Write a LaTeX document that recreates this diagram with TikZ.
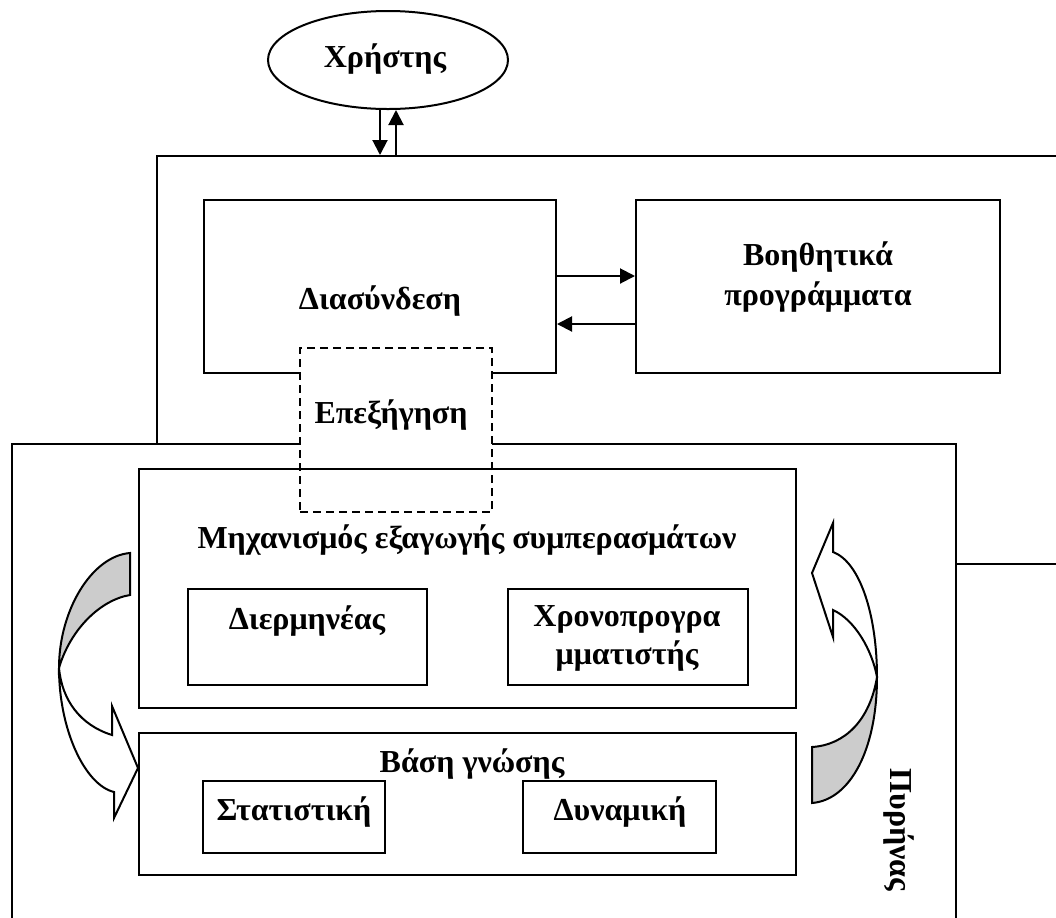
\documentclass[tikz,border=0pt]{standalone}
\usepackage{fontspec}
\setmainfont{Liberation Serif}
\usetikzlibrary{arrows.meta,fit,positioning,shapes.geometric}

\tikzset{
  box/.style={draw, line width=1pt, inner sep=0pt},
  lbl/.style={font=\fontsize{16}{19}\selectfont\bfseries, align=center, inner sep=0pt},
  tip/.style={-{Triangle[length=7.5pt,width=7.5pt]}, line width=1pt},
  band/.style={line width=1pt, fill=white},
  backband/.style={line width=1pt, fill=gray!40}
}

\begin{document}
\begin{tikzpicture}[x=0.5pt,y=-0.5pt]
\path[use as bounding box, clip] (0,0) rectangle (1056,917);

% user and system frame
\node[box, ellipse, minimum width=120pt, minimum height=49pt] (user) at (388,60) {};
\node[lbl, anchor=base] (usertxt) at (385,67) {Χρήστης};
\node[box, fit={(157,156) (1090,564)}] (sys) {};

\node[box, fit={(204,200) (556,373)}] (iface) {};
\node[lbl, anchor=base] (ifacetxt) at (380,309) {Διασύνδεση};
\node[box, fit={(636,200) (1000,373)}] (utils) {};
\node[lbl, font=\fontsize{16}{20}\selectfont\bfseries] (utilstxt) at (818,277) {Βοηθητικά\\προγράμματα};

\draw[tip] ([xshift=-4pt]user.south) -- ([xshift=-4pt]user.south |- sys.north);
\draw[tip] ([xshift=4pt]user.south |- sys.north) -- ([xshift=4pt]user.south);
\draw[tip] ([yshift=5.25pt]iface.east) -- ([yshift=5.25pt]utils.west);
\draw[tip] ([yshift=-18.75pt]utils.west) -- ([yshift=-18.75pt]iface.east);

% kernel
\node[box, fill=white, fit={(12,444) (956,940)}] (core) {};
\node[lbl, rotate=-90, anchor=base] (coretxt) at (890,830) {Πυρήνας};

\node[box, fill=white, dash pattern=on 4pt off 2.5pt, fit={(300,348) (492,512)}] (expl) {};
\node[lbl, anchor=base] (expltxt) at (391,423) {Επεξήγηση};

\node[box, fit={(139,469) (796,708)}] (engine) {};
\node[lbl, anchor=base] (enginetxt) at (467,548) {Μηχανισμός εξαγωγής συμπερασμάτων};
\node[box, fit={(188,589) (427,685)}] (interp) {};
\node[lbl, anchor=base] (interptxt) at (307,629) {Διερμηνέας};
\node[box, fit={(508,589) (748,685)}] (sched) {};
\node[lbl] (schedtxt) at (627,638) {Χρονοπρογρα\\μματιστής};

\node[box, fit={(139,733) (796,875)}] (kb) {};
\node[lbl, anchor=base] (kbtxt) at (472,772) {Βάση γνώσης};
\node[box, fit={(203,781) (385,853)}] (stat) {};
\node[lbl, anchor=base] (stattxt) at (294,820) {Στατιστική};
\node[box, fit={(523,781) (716,853)}] (dyn) {};
\node[lbl, anchor=base] (dyntxt) at (620,820) {Δυναμική};

% curved arrows
\filldraw[backband] (130,553) .. controls (92,556) and (59,610) .. (59,668)
  .. controls (70,630) and (100,600) .. (130,595) -- cycle;
\filldraw[band] (59,668) .. controls (59,730) and (85,785) .. (114,792)
  -- (114,818) -- (138,768) -- (112,706) -- (112,735) .. controls (80,725) and (62,700) .. (59,668) -- cycle;
\filldraw[backband] (877,677) .. controls (877,750) and (850,800) .. (812,803)
  -- (812,747) .. controls (845,745) and (870,720) .. (877,677) -- cycle;
\filldraw[band] (877,677) .. controls (877,615) and (860,562) .. (833,552)
  -- (833,523) -- (812,573) -- (833,637) -- (833,610) .. controls (855,620) and (872,650) .. (877,677) -- cycle;
\end{tikzpicture}
\end{document}
